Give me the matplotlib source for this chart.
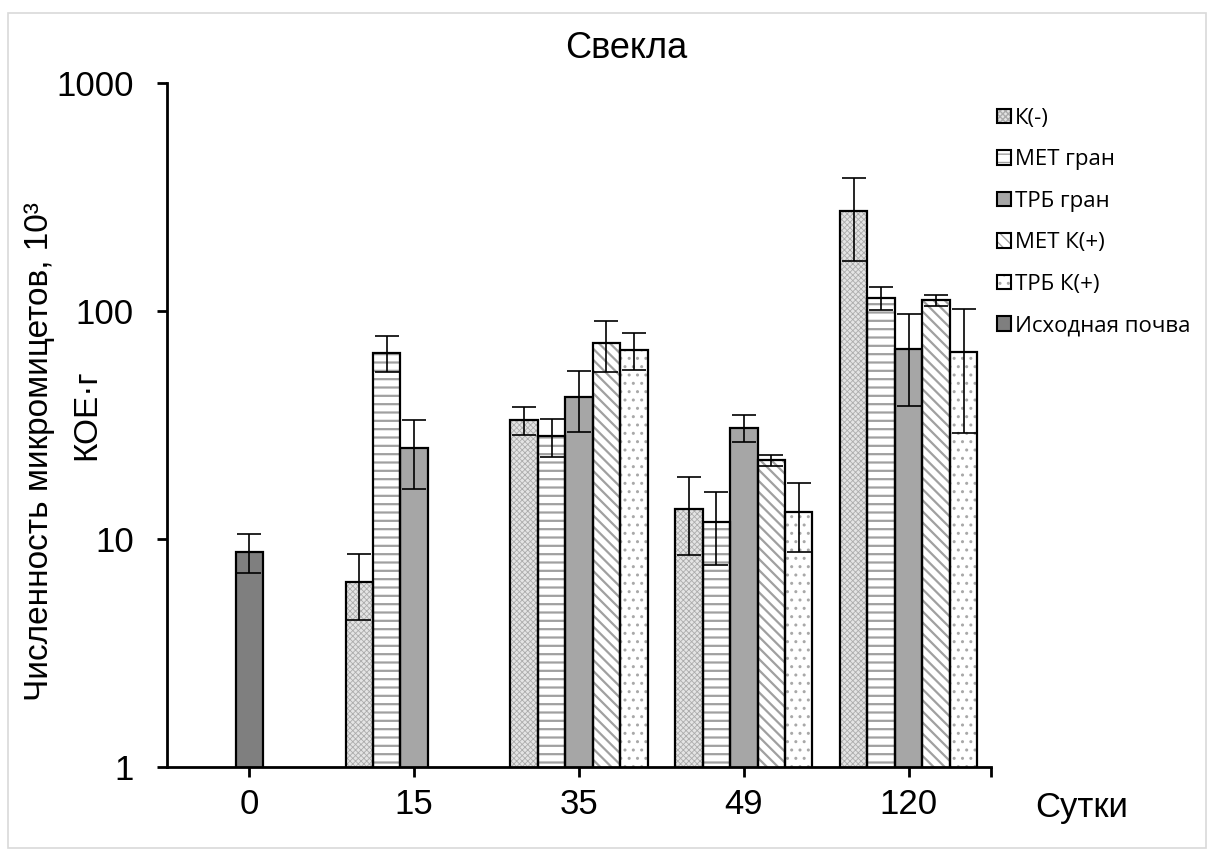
import numpy as np
import matplotlib
matplotlib.use("Agg")
import matplotlib.pyplot as plt
from matplotlib.patches import Patch, Rectangle
from matplotlib.legend_handler import HandlerTuple

nan = np.nan

# ---- data ----
days = ["0", "15", "35", "49", "120"]
series_names = ["К(-)", "МЕТ гран", "ТРБ гран", "МЕТ К(+)", "ТРБ К(+)", "Исходная почва"]

k_minus      = [nan, 6.5, 33.3, 13.6, 274.5]
k_minus_err  = [nan, 2.1, 4.75, 5.1, 108.0]
met_gran     = [nan, 65.6, 28.2, 11.9, 114.4]
met_gran_err = [nan, 11.8, 5.3, 4.2, 13.6]
trb_gran     = [nan, 25.0, 42.1, 30.8, 67.9]
trb_gran_err = [nan, 8.35, 12.5, 4.25, 29.5]
met_kp       = [nan, nan, 72.2, 22.1, 111.7]
met_kp_err   = [nan, nan, 18.2, 1.15, 6.3]
trb_kp       = [nan, nan, 67.5, 13.2, 65.9]
trb_kp_err   = [nan, nan, 12.4, 4.4, 36.6]
soil         = [8.8, nan, nan, nan, nan]
soil_err     = [1.74, nan, nan, nan, nan]

# ---- styles ----
W, H = 1208, 850
fig = plt.figure(figsize=(W / 100, H / 100), dpi=100)
ax = fig.add_axes([167 / W, 1 - 767 / H, (991 - 167) / W, (767 - 83) / H])
ax.set_yscale("log")

bw = 1 / 6
styles = [
    # facecolor, hatch, hatchcolor, hatch lw
    dict(fc="#e4e4e4", hatch="xxxxxx", hc="#acacac", hlw=0.6),
    dict(fc="white", hatch="--", hc="#a0a0a0", hlw=1.6),
    dict(fc="#a6a6a6", hatch=None, hc="#a6a6a6", hlw=1.0),
    dict(fc="white", hatch="\\\\\\", hc="#a0a0a0", hlw=1.6),
    dict(fc="white", hatch="..", hc="#a8a8a8", hlw=1.0),
    dict(fc="#7f7f7f", hatch=None, hc="#7f7f7f", hlw=1.0),
]

xpos = np.arange(len(days))
series_vals = [k_minus, met_gran, trb_gran, met_kp, trb_kp, soil]
series_errs = [k_minus_err, met_gran_err, trb_gran_err, met_kp_err, trb_kp_err, soil_err]
offsets = [-2, -1, 0, 1, 2, 0]

for vals, errs, off, st in zip(series_vals, series_errs, offsets, styles):
    v = np.array(vals, dtype=float)
    e = np.array(errs, dtype=float)
    m = ~np.isnan(v)
    x = xpos[m] + off * bw
    with plt.rc_context({"hatch.linewidth": st["hlw"]}):
        ax.bar(x, v[m], width=bw, color=st["fc"], hatch=st["hatch"],
               edgecolor=st["hc"], linewidth=0, zorder=2)
    ax.bar(x, v[m], width=bw, fill=False, edgecolor="black", linewidth=1.6, zorder=3)
    ax.errorbar(x, v[m], yerr=e[m], fmt="none", ecolor="black", elinewidth=1.2,
                capsize=8.5, capthick=1.2, zorder=4)

ax.set_ylim(1, 1000)
ax.set_xlim(-0.5, 4.5)
ax.set_yticks([1, 10, 100, 1000])
ax.set_yticklabels(["1", "10", "100", "1000"])
ax.yaxis.set_minor_locator(matplotlib.ticker.NullLocator())
ax.set_xticks(xpos)
ax.set_xticklabels(days)
ax.set_xticks([4.5], minor=True)

for s in ["top", "right"]:
    ax.spines[s].set_visible(False)
for s in ["left", "bottom"]:
    ax.spines[s].set_linewidth(2.0)

ax.tick_params(axis="both", which="both", direction="out", length=7, width=2.0,
               labelsize=25)
ax.tick_params(axis="y", pad=17)
ax.tick_params(axis="x", pad=8)
for lab in ax.get_xticklabels() + ax.get_yticklabels():
    lab.set_fontfamily("Liberation Sans")

# text
fig.text(626 / W, 1 - 49 / H, "Свекла", ha="center", va="center", fontsize=26,
         family="Liberation Sans")
fig.text(1082 / W, 1 - 807 / H, "Сутки", ha="center", va="center", fontsize=25,
         family="Liberation Sans")
fig.text(40 / W, 1 - 452 / H, "Численность микромицетов, 10³", ha="center",
         va="center", rotation=90, fontsize=24, family="Liberation Sans")
fig.text(87 / W, 1 - 415 / H, "КОЕ·г", ha="center", va="center", rotation=90,
         fontsize=24, family="Liberation Sans")

# legend
handles = []
for st in styles:
    with plt.rc_context({"hatch.linewidth": st["hlw"]}):
        p1 = Patch(facecolor=st["fc"], hatch=st["hatch"], edgecolor=st["hc"], linewidth=0)
    p2 = Patch(fill=False, edgecolor="black", linewidth=1.5)
    handles.append((p1, p2))
leg = fig.legend(handles, series_names, loc="upper left",
                 bbox_to_anchor=(997 / W, 1 - 108 / H), frameon=False,
                 handler_map={tuple: HandlerTuple(ndivide=1, pad=0)},
                 prop={"family": "Open Sans", "size": 16},
                 handlelength=0.62, handleheight=0.62, handletextpad=0.2,
                 labelspacing=0.92, borderpad=0, borderaxespad=0)

# light frame around figure
fig.add_artist(Rectangle((8 / W, 2 / H), (W - 10) / W, (H - 15) / H,
                         transform=fig.transFigure, fill=False,
                         edgecolor="#d9d9d9", linewidth=1.2))

fig.savefig("out.png", dpi=100)
